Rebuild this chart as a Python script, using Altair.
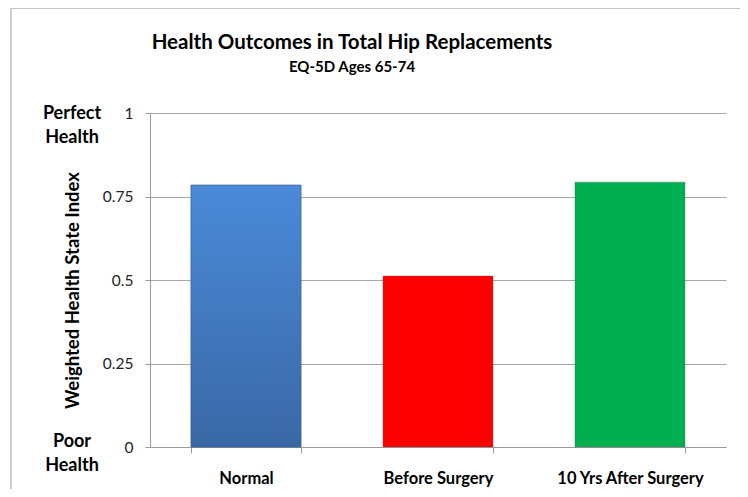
import altair as alt
import pandas as pd

categories = ["Normal", "Before Surgery", "10 Yrs After Surgery"]
values = [0.784, 0.512, 0.793]
colors = ["#4580cc", "#ff0000", "#00b050"]
y_ticks = [0, 0.25, 0.5, 0.75, 1]
end_labels = ["Poor\nHealth", "Perfect\nHealth"]
end_values = [0, 1]

df = pd.DataFrame({"cat": categories, "val": values})
ends = pd.DataFrame({"lab": end_labels, "v": end_values})

FONT = "Lato"

x_enc = alt.X("cat:N", sort=categories, title=None,
              scale=alt.Scale(paddingInner=0.427, paddingOuter=0.2135),
              axis=alt.Axis(labelFont=FONT, labelFontWeight="bold", labelFontSize=16.5,
                            labelColor="#000000", labelAngle=0, labelPadding=17,
                            tickBand="extent", tickSize=6, tickColor="#9a9a9a",
                            domainColor="#9a9a9a", grid=False))
y_enc = alt.Y("val:Q", scale=alt.Scale(domain=[0, 1]),
              title="Weighted Health State Index",
              axis=alt.Axis(values=y_ticks, format=".2~f", labelFont=FONT, labelFontSize=15.5,
                            labelColor="#222222", labelPadding=12, tickSize=5,
                            tickColor="#9a9a9a", domainColor="#9a9a9a",
                            gridColor="#a6a6a6", titleFont=FONT, titleFontSize=18.5,
                            titleFontWeight="bold", titleColor="#000000",
                            titleX=-68, titleY=177, titleAngle=-90))

bars = alt.Chart(df).mark_bar(stroke="#5a5a5a", strokeWidth=0.6, strokeOpacity=0.6).encode(
    x=x_enc, y=y_enc,
    color=alt.Color("cat:N", sort=categories,
                    scale=alt.Scale(domain=categories, range=colors), legend=None),
)

shade = alt.Chart(df).transform_filter(alt.datum.cat == "Normal").mark_bar(
    fill=alt.Gradient(gradient="linear", x1=0, y1=0, x2=0, y2=1,
                      stops=[alt.GradientStop(color="#4a8ad8", offset=0),
                             alt.GradientStop(color="#3a68a6", offset=1)]),
    stroke="#3a5f95", strokeWidth=0.6,
).encode(x=alt.X("cat:N", sort=categories), y="val:Q")

def end_layer(value, dy):
    return alt.Chart(ends).transform_filter(alt.datum.v == value).mark_text(
        font=FONT, fontSize=18, fontWeight="bold", color="#000000",
        lineBreak="\n", align="center", baseline="middle", lineHeight=23.5, dy=dy,
    ).encode(y=alt.Y("v:Q"), x=alt.value(-78), text="lab:N")

top_text = end_layer(1, 1)
bottom_text = end_layer(0, -5)

border = alt.Chart(ends).mark_rect(fill=None, stroke="#c4c4c4", strokeWidth=1.2).encode(
    x=alt.value(-139), x2=alt.value(700), y=alt.value(-104.5), y2=alt.value(420)
)

chart = alt.layer(border, bars, shade, top_text, bottom_text).properties(
    width=576, height=334,
    title=alt.TitleParams(
        "Health Outcomes in Total Hip Replacements",
        subtitle="EQ-5D Ages 65-74",
        anchor="start", frame="group", align="center", dx=202, offset=-67.5,
        font=FONT, fontSize=20.5, fontWeight="bold", color="#000000",
        subtitleFont=FONT, subtitleFontSize=15, subtitleFontWeight="bold",
        subtitleColor="#000000", subtitlePadding=7,
    ),
    autosize=alt.AutoSizeParams(type="none"),
    padding={"left": 142, "top": 105, "right": 14, "bottom": 42},
).configure_view(stroke=None)

chart.save("out.html", embed_options={"renderer": "svg", "actions": False})
